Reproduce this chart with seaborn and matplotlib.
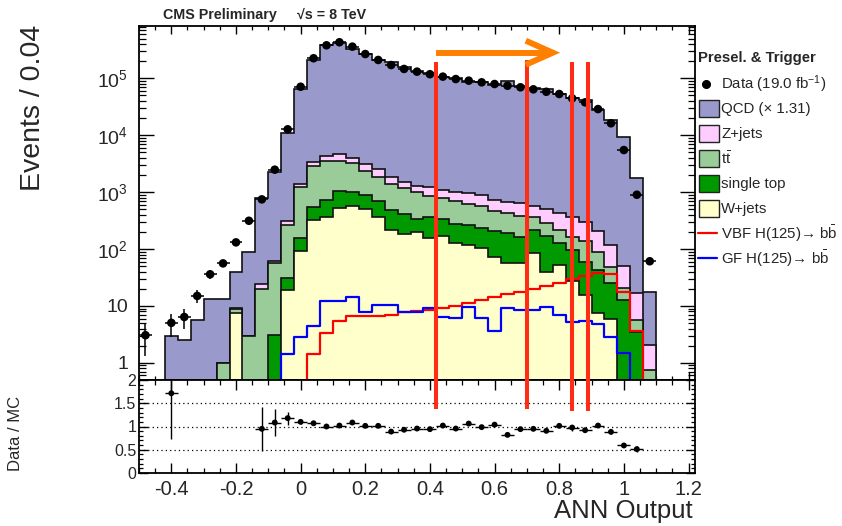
import numpy as np
import pandas as pd
import matplotlib
matplotlib.use("Agg")
import matplotlib.pyplot as plt
import seaborn as sns
from matplotlib.lines import Line2D
from matplotlib.patches import Rectangle
from matplotlib import transforms
from matplotlib.ticker import MultipleLocator, FixedLocator, FuncFormatter, LogLocator, NullFormatter

# ---------------- binning ----------------
x_start = -0.5
bin_width = 0.04
n_bins = 43

# ---------------- data ----------------
data_counts = [3.06, 0, 5.05, 6.4, 15, 36, 56, 131, 314, 746,
               2480, 12700, 71100, 225000, 380000, 430000, 360000, 267000, 210000, 171000,
               146000, 131000, 118000, 107000, 97000, 91000, 85000, 79400, 74000, 69500,
               64000, 58000, 53000, 44500, 37800, 28800, 16200, 5490, 900, 61,
               0, 0, 0]
data_err = [1.75, 0, 2.25, 2.5, 3.9, 6, 7.5, 11.4, 17.7, 27,
            50, 113, 267, 474, 616, 656, 600, 517, 458, 414,
            382, 362, 344, 327, 311, 302, 292, 282, 272, 264,
            253, 241, 230, 211, 194, 170, 127, 74, 30, 7.8,
            0, 0, 0]

# stacked levels (top edge of each stack layer)
qcd_stack = [0, 0, 2.95, 2.5, 5.6, 13, 13, 38.8, 87, 780,
             2285, 10800, 64600, 210000, 380000, 420000, 330000, 263000, 207000, 192000,
             157000, 137000, 125000, 105000, 101000, 85600, 86000, 76000, 90000, 74000,
             67000, 64000, 52000, 45500, 41000, 28200, 18300, 9270, 1750, 17.7,
             0, 0, 0]
zjets_stack = [0, 0, 0, 0, 0, 0, 1.0, 9.3, 3.0, 24.2,
               62, 305, 1380, 3350, 4300, 4670, 4020, 3110, 2510, 1816,
               1520, 1294, 1230, 1110, 1020, 950, 895, 730, 678, 650,
               569, 498, 423, 362, 301, 209, 117, 50, 16.6, 2.1,
               0, 0, 0]
ttbar_stack = [0, 0, 0, 0, 0, 0, 1.0, 9.0, 2.98, 19.5,
               56, 268, 1240, 2870, 3515, 3560, 3200, 2376, 1862, 1387,
               1164, 990, 850, 790, 700, 610, 575, 470, 423, 379,
               369, 282, 215, 164, 140, 89, 47.5, 21, 5.6, 0.74,
               0, 0, 0]
singletop_stack = [0, 0, 0, 0, 0, 0, 0, 0, 0, 0,
                   3.07, 31, 158, 553, 725, 1045, 1015, 888, 705, 484,
                   411, 340, 369, 340, 275, 265, 235, 205, 188, 164,
                   215, 169, 126, 96, 60, 42, 25, 12.7, 3.5, 0,
                   0, 0, 0]
wjets_stack = [0, 0, 0, 0, 0, 0, 0, 7.6, 0, 0,
               0, 19, 92, 323, 369, 531, 569, 498, 369, 215,
               183, 201, 154, 169, 129, 117, 103, 73, 56, 56,
               84, 40, 52, 28, 15.5, 7.4, 6.0, 0, 0, 0,
               0, 0, 0]
vbf_signal = [0, 0, 0, 0, 0, 0, 0, 0, 0, 0,
              0, 0, 0, 1.46, 3.3, 5.47, 6.6, 6.7, 6.7, 7.0,
              7.7, 8.2, 8.6, 9.3, 9.9, 11.1, 12.7, 14.1, 16.1, 17.7,
              19.8, 22.3, 25.5, 29.3, 33, 38, 35.8, 17.7, 3.6, 0,
              0, 0, 0]
gf_signal = [0, 0, 0, 0, 0, 0, 0, 0, 0, 0,
             0, 1.42, 2.9, 4.4, 12.0, 12.3, 14.1, 7.9, 10.6, 10.2,
             7.7, 7.9, 9.2, 6.4, 6.2, 9.5, 6.1, 3.6, 9.3, 8.45,
             8.6, 9.4, 6.9, 5.2, 5.5, 4.8, 2.9, 1.5, 0, 0,
             0, 0, 0]

nan = np.nan
ratio = [nan, nan, 1.715, nan, nan, nan, nan, nan, nan, 0.95,
         1.085, 1.18, 1.10, 1.07, 1.00, 1.02, 1.085, 1.014, 1.014, 0.89,
         0.93, 0.956, 0.943, 1.02, 0.956, 1.063, 0.986, 1.04, 0.82, 0.943,
         0.95, 0.907, 1.014, 0.978, 0.92, 1.02, 0.885, 0.592, 0.514, nan,
         nan, nan, nan]
ratio_err = [nan, nan, 0.98, nan, nan, nan, nan, nan, nan, 0.47,
             0.29, 0.14, 0.04, 0.03, 0.02, 0.02, 0.02, 0.02, 0.02, 0.02,
             0.02, 0.02, 0.02, 0.02, 0.02, 0.02, 0.02, 0.02, 0.02, 0.02,
             0.02, 0.025, 0.025, 0.065, 0.03, 0.035, 0.05, 0.025, 0.06, nan,
             nan, nan, nan]

cut_values = [0.42, 0.70, 0.84, 0.89]
arrow_span = [0.42, 0.78]

legend_header = "Presel. & Trigger"
legend_labels = ["Data (19.0 fb$^{-1}$)", "QCD (\u00d7 1.31)", "Z+jets",
                 r"t$\bar{\mathrm{t}}$", "single top", "W+jets",
                 "VBF H(125)\u2192 b$\\bar{\\mathrm{b}}$",
                 "GF H(125)\u2192 b$\\bar{\\mathrm{b}}$"]

# ---------------- style ----------------
C_QCD = '#9999cc'
C_Z = '#ffccff'
C_TT = '#99cc99'
C_ST = '#009900'
C_W = '#ffffcc'
C_VBF = '#ff0000'
C_GF = '#0000ff'
C_CUT = '#ff2d16'
C_ARROW = '#ff7f00'

sns.set_theme(style="ticks")
plt.rcParams['font.family'] = ['Liberation Sans', 'DejaVu Sans']
plt.rcParams['mathtext.fontset'] = 'custom'
plt.rcParams['mathtext.rm'] = 'Liberation Sans'
plt.rcParams['mathtext.it'] = 'Liberation Sans:italic'
plt.rcParams['mathtext.bf'] = 'Liberation Sans:bold'
plt.rcParams['axes.unicode_minus'] = False
plt.rcParams['axes.linewidth'] = 1.3

W, H = 842, 526
fig = plt.figure(figsize=(W / 100, H / 100), dpi=100)


def fx(px):
    return px / W


def fy(py):
    return 1 - py / H


ax1 = fig.add_axes([fx(139), fy(380), fx(695) - fx(139), fy(26) - fy(380)])
ax2 = fig.add_axes([fx(139), fy(473), fx(695) - fx(139), fy(380) - fy(473)], sharex=ax1)

edges = x_start + bin_width * np.arange(n_bins + 1)
centers = 0.5 * (edges[:-1] + edges[1:])
floor = 1e-3


def lv(a):
    a = np.asarray(a, float)
    return np.where(a > 0, a, floor)


ax1.set_yscale('log')

# ---------------- stacked backgrounds ----------------
layers = [(qcd_stack, C_QCD), (zjets_stack, C_Z), (ttbar_stack, C_TT),
          (singletop_stack, C_ST), (wjets_stack, C_W)]
for i, (vals, col) in enumerate(layers):
    z = 1 + i * 0.2
    ax1.stairs(lv(vals), edges, baseline=floor, fill=True, color=col, zorder=z, lw=0)
    ax1.stairs(lv(vals), edges, baseline=floor, fill=False, color='#111111', lw=1.2, zorder=z + 0.1)

# ---------------- signal lines ----------------
for vals, col in [(vbf_signal, C_VBF), (gf_signal, C_GF)]:
    v = lv(vals)
    df = pd.DataFrame({'x': edges, 'y': np.append(v, v[-1])})
    sns.lineplot(data=df, x='x', y='y', drawstyle='steps-post', color=col, lw=1.6,
                 estimator=None, sort=False, ax=ax1, zorder=4, legend=False)

# ---------------- data ----------------
d = np.asarray(data_counts, float)
de = np.asarray(data_err, float)
m = d > 0
ax1.errorbar(centers[m], d[m], xerr=bin_width / 2, yerr=de[m], fmt='none',
             ecolor='black', elinewidth=1.1, capsize=0, zorder=5)
sns.scatterplot(x=centers[m], y=d[m], color='black', s=38, edgecolor='none',
                ax=ax1, zorder=6, legend=False)

ax1.set_xlim(x_start, x_start + bin_width * n_bins)
ax1.set_ylim(0.5, 8.3e5)
ax1.set_xlabel('')
ax1.set_ylabel('')


def ylog_fmt(v, pos):
    if v <= 0:
        return ''
    e = int(round(np.log10(v)))
    if abs(v - 10 ** e) > 1e-6 * v:
        return ''
    if e == 0:
        return '1'
    if e == 1:
        return '10'
    return r'$10^{%d}$' % e


ax1.yaxis.set_major_locator(LogLocator(base=10, numticks=20))
ax1.yaxis.set_minor_locator(LogLocator(base=10, subs=np.arange(2, 10), numticks=20))
ax1.yaxis.set_major_formatter(FuncFormatter(ylog_fmt))
ax1.yaxis.set_minor_formatter(NullFormatter())
ax1.xaxis.set_major_locator(MultipleLocator(0.2))
ax1.xaxis.set_minor_locator(MultipleLocator(0.05))
ax1.tick_params(axis='both', which='both', direction='in', top=True, right=True,
                labelbottom=False, color='black')
ax1.tick_params(axis='y', which='major', length=11, width=1.0, labelsize=14, pad=8)
ax1.tick_params(axis='y', which='minor', length=5, width=0.9)
ax1.tick_params(axis='x', which='major', length=6, width=1.0)
ax1.tick_params(axis='x', which='minor', length=3, width=0.9)
for s in ax1.spines.values():
    s.set_color('black')
    s.set_zorder(10)

# ---------------- ratio panel ----------------
r = np.asarray(ratio, float)
re = np.asarray(ratio_err, float)
mr = ~np.isnan(r)
for lvl in [0.5, 1.0, 1.5]:
    ax2.axhline(lvl, color='black', lw=0.9, ls=(0, (1, 2.5)), zorder=1)
ax2.errorbar(centers[mr], r[mr], xerr=bin_width / 2, yerr=re[mr], fmt='none',
             ecolor='black', elinewidth=1.0, capsize=0, zorder=3)
sns.scatterplot(x=centers[mr], y=r[mr], color='black', s=18, edgecolor='none',
                ax=ax2, zorder=4, legend=False)
ax2.set_ylim(0, 2)
ax2.set_xlabel('')
ax2.set_ylabel('')
ax2.yaxis.set_major_locator(FixedLocator([0, 0.5, 1, 1.5, 2]))
ax2.yaxis.set_major_formatter(FuncFormatter(lambda v, p: '%g' % round(v, 2)))
ax2.yaxis.set_minor_locator(MultipleLocator(0.1))
ax2.xaxis.set_major_formatter(FuncFormatter(lambda v, p: '%g' % (round(v, 2) + 0.0)))
ax2.tick_params(axis='both', which='both', direction='in', top=True, right=True, color='black')
ax2.tick_params(axis='y', which='major', length=6.5, width=1.0, labelsize=11.5, pad=2)
ax2.tick_params(axis='y', which='minor', length=3, width=0.9)
ax2.tick_params(axis='x', which='major', length=7, width=1.0, labelsize=14.5, pad=5)
ax2.tick_params(axis='x', which='minor', length=3.5, width=0.9)
for s in ax2.spines.values():
    s.set_color('black')

# ---------------- axis titles ----------------
fig.text(fx(33), fy(25), 'Events / 0.04', rotation=90, ha='center', va='top', fontsize=20.5)
fig.text(fx(16), fy(433), 'Data / MC', rotation=90, ha='center', va='center', fontsize=12)
fig.text(fx(693), fy(511), 'ANN Output', ha='right', va='center', fontsize=18.5)
fig.text(fx(163), fy(15), 'CMS Preliminary', ha='left', va='center', fontsize=10.3, weight='bold')
fig.text(fx(297), fy(15), '\u221as = 8 TeV', ha='left', va='center', fontsize=10.3, weight='bold')

# ---------------- legend ----------------
fig.text(fx(698), fy(58), legend_header, ha='left', va='center', fontsize=10.7, weight='bold')
row0, drow = 84, 24.9
handles = [('dot', 'black'), ('box', C_QCD), ('box', C_Z), ('box', C_TT), ('box', C_ST),
           ('box', C_W), ('line', C_VBF), ('line', C_GF)]
for k, ((kind, col), lab) in enumerate(zip(handles, legend_labels)):
    yc = row0 + drow * k
    if kind == 'dot':
        fig.add_artist(Line2D([fx(706)], [fy(yc)], marker='o', ms=5.5, color='black',
                              transform=fig.transFigure, lw=0))
    elif kind == 'box':
        fig.add_artist(Rectangle((fx(698.5), fy(yc + 8.5)), fx(20), 17 / H, facecolor=col,
                                 edgecolor='#222222', lw=1.0, transform=fig.transFigure))
    else:
        fig.add_artist(Line2D([fx(698), fx(717)], [fy(yc), fy(yc)], color=col, lw=1.6,
                              transform=fig.transFigure))
    fig.text(fx(721), fy(yc), lab, ha='left', va='center', fontsize=10.8)

# ---------------- annotations: cut lines and arrow ----------------
blend = transforms.blended_transform_factory(ax1.transData, fig.transFigure)
cut_tops = [62, 60, 62, 62]
cut_bottoms = [409, 409, 411, 411]
for xc, t, b in zip(cut_values, cut_tops, cut_bottoms):
    fig.add_artist(Line2D([xc, xc], [fy(t), fy(b)], color=C_CUT, lw=2.9,
                          transform=blend, solid_capstyle='butt', zorder=20))

ya = 52.7
head_len = 27 / 323.3
fig.add_artist(Line2D([arrow_span[0], arrow_span[1] - 0.01], [fy(ya), fy(ya)], color=C_ARROW,
                      lw=4.3, transform=blend, solid_capstyle='butt', zorder=21))
fig.add_artist(Line2D([arrow_span[1] - head_len, arrow_span[1], arrow_span[1] - head_len],
                      [fy(ya - 12), fy(ya), fy(ya + 12)], color=C_ARROW, lw=4.3,
                      transform=blend, solid_joinstyle='miter', solid_capstyle='butt', zorder=21))

fig.savefig('out.png', dpi=100)
